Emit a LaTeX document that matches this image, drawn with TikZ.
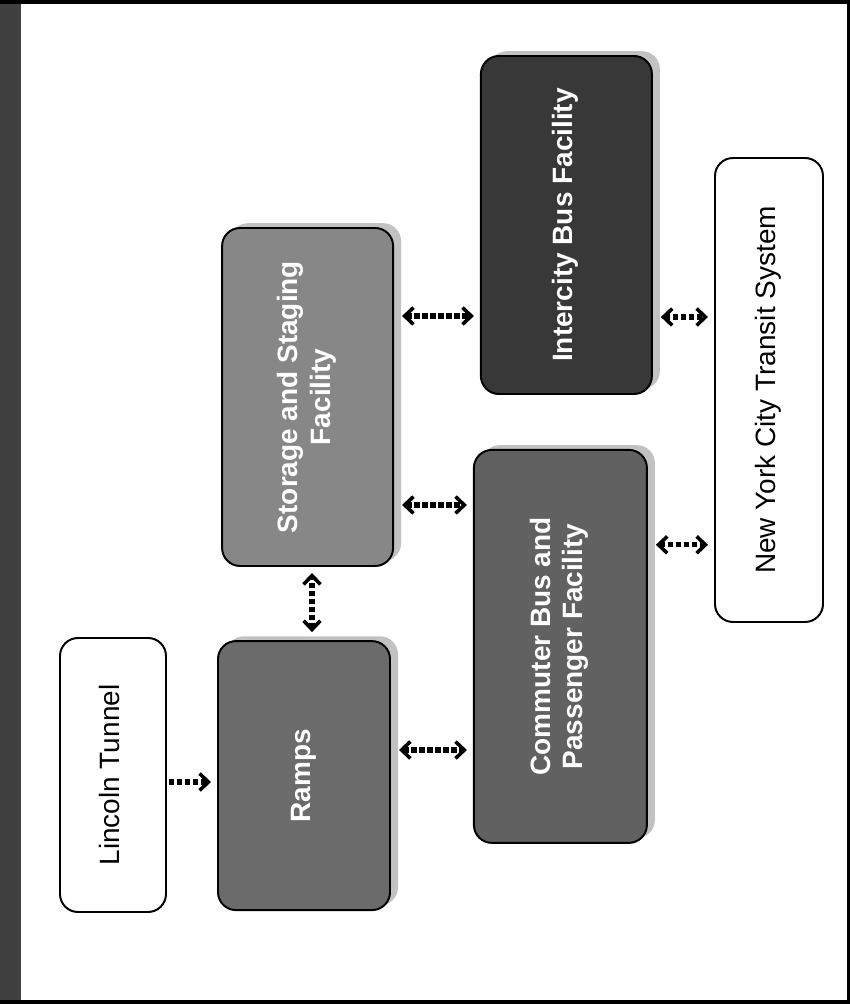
\documentclass[tikz,border=0pt]{standalone}
\usepackage{fontspec}
\setmainfont{Liberation Sans}
\usetikzlibrary{arrows.meta,positioning,calc,shadows}

% upright box text turned a quarter turn
\newcommand{\vtext}[1]{\rotatebox{90}{\begin{tabular}{@{}c@{}}#1\end{tabular}}}

\begin{document}
\begin{tikzpicture}[every node/.style={font=\fontsize{19.9}{22.8}\selectfont},
 b/.style={draw,line width=1.4pt,rounded corners=0.45cm,inner sep=0pt},
 fac/.style={b,fill=#1,text=white,font=\fontsize{19.9}{22.8}\selectfont\bfseries,
  drop shadow={shadow xshift=0.2cm,shadow yshift=0.12cm,fill=black!40,opacity=0.6}},
 >={Straight Barb[length=0.22cm,width=0.42cm,line width=0.09cm]},
 arr/.style={line width=0.13cm,dash pattern=on 0.13cm off 0.07cm,shorten <=0.2cm,shorten >=0.15cm}]
\useasboundingbox (0,0) rectangle (21.25,25.1);
% scanned page edge
\fill[black!75] (0,0) rectangle (0.525,25.1);
\fill[black] (0,25) rectangle (21.25,25.1);
\fill[black] (21.175,0) rectangle (21.25,25.1);
\fill[black] (0,0) rectangle (21.25,0.1);
% boxes
\node[b,fill=white,minimum width=2.65cm,minimum height=6.85cm] (lt) at (2.825,5.725) {\vtext{Lincoln Tunnel}};
\node[fac=black!58,minimum width=4.3cm,minimum height=6.725cm] (ramps) at (7.6,5.71) {\vtext{Ramps}};
\node[fac=black!47,minimum width=4.275cm,minimum height=8.45cm] (stor) at (7.69,15.175) {\vtext{Storage and Staging\\ Facility}};
\node[fac=black!78,minimum width=4.275cm,minimum height=8.45cm] (inter) at (14.16,19.475) {\vtext{Intercity Bus Facility}};
\node[fac=black!62,minimum width=4.325cm,minimum height=9.825cm] (comm) at (14.01,8.94) {\vtext{Commuter Bus and\\ Passenger Facility}};
\node[b,fill=white,minimum width=2.7cm,minimum height=11.6cm] (nyc) at (19.225,15.35) {\vtext{New York City Transit System}};
% links
\draw[arr,->,shorten <=0.05cm] ($(lt.east)+(0,-0.175)$) -- ($(lt.east -| ramps.west)+(0,-0.175)$);
\draw[arr,<->] ($(ramps.north)+(0.2,0)$) -- ($(ramps.north |- stor.south)+(0.2,0)$);
\draw[arr,<->] ($(ramps.east)+(0,0.64)$) -- ($(ramps.east -| comm.west)+(0,0.64)$);
\draw[arr,<->] ($(stor.east)+(0,-2.7)$) -- ($(stor.east -| comm.west)+(0,-2.7)$);
\draw[arr,<->] ($(stor.east)+(0,2.025)$) -- ($(stor.east -| inter.west)+(0,2.025)$);
\draw[arr,<->] ($(inter.east)+(0,-2.3)$) -- ($(inter.east -| nyc.west)+(0,-2.3)$);
\draw[arr,<->] ($(comm.east)+(0,2.54)$) -- ($(comm.east -| nyc.west)+(0,2.54)$);
\end{tikzpicture}
\end{document}
